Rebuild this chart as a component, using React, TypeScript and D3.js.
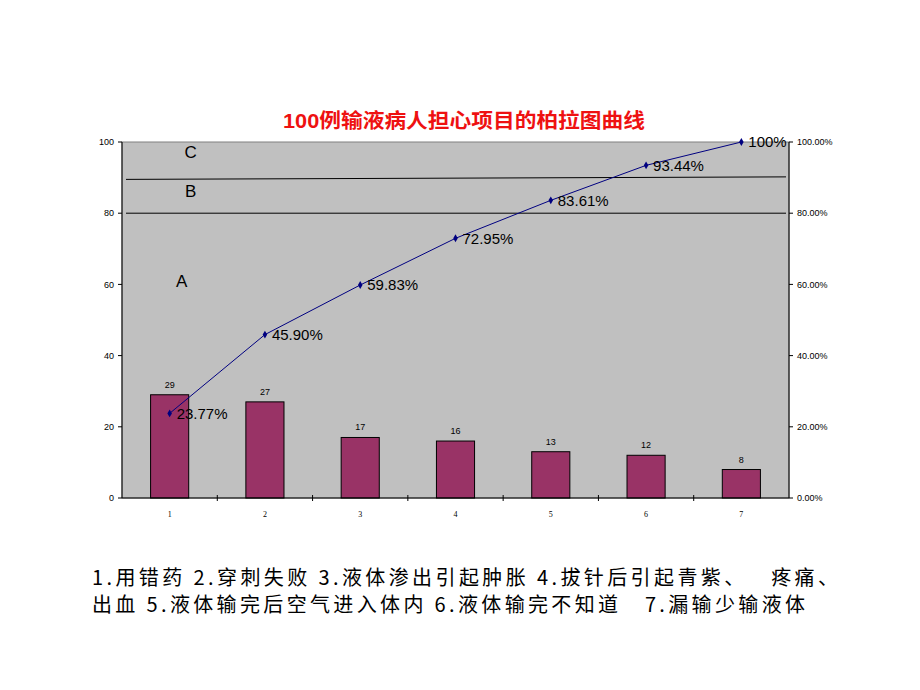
import React, { useEffect, useRef } from "react";
import * as d3 from "d3";

// Pareto data
const categories = ["1", "2", "3", "4", "5", "6", "7"];
const counts = [29, 27, 17, 16, 13, 12, 8];
const cumulative = [23.77, 45.9, 59.83, 72.95, 83.61, 93.44, 100];
const cumulativeLabels = ["23.77%", "45.90%", "59.83%", "72.95%", "83.61%", "93.44%", "100%"];
const leftTicks = [0, 20, 40, 60, 80, 100];
const rightTicks = [0, 20, 40, 60, 80, 100];
// zone boundaries (start / end value on left axis)
const boundaryAB = [80, 80];
const boundaryBC = [89.5, 90.2];
const zoneNames = ["A", "B", "C"];
const zoneValues = [61, 86.3, 97.3];
const legendLines = [
  "1.用错药 2.穿刺失败 3.液体渗出引起肿胀 4.拔针后引起青紫、   疼痛、",
  "出血 5.液体输完后空气进入体内 6.液体输完不知道   7.漏输少输液体",
];

const W = 920;
const H = 690;

export default function App() {
  const svgRef = useRef<SVGSVGElement>(null);

  useEffect(() => {
    if (!svgRef.current) return;
    const svg = d3.select(svgRef.current);
    svg.selectAll("*").remove();

    const plot = { left: 122, right: 789, top: 142, bottom: 498 };
    const font = "Arial, 'Liberation Sans', 'Noto Sans CJK SC', sans-serif";

    const x = d3
      .scaleBand<string>()
      .domain(categories)
      .range([plot.left, plot.right])
      .padding(0);
    const y = d3.scaleLinear().domain([0, 100]).range([plot.bottom, plot.top]);
    const yPct = d3.scaleLinear().domain([0, 100]).range([plot.bottom, plot.top]);

    svg.append("rect").attr("width", W).attr("height", H).attr("fill", "#fff");

    // title
    svg
      .append("text")
      .attr("x", 464)
      .attr("y", 128)
      .attr("text-anchor", "middle")
      .attr("font-family", font)
      .attr("font-weight", "bold")
      .attr("font-size", 20)
      .attr("fill", "#EE1111")
      .attr("textLength", 362)
      .attr("lengthAdjust", "spacingAndGlyphs")
      .text("100例输液病人担心项目的柏拉图曲线");

    // plot background
    svg
      .append("rect")
      .attr("x", plot.left)
      .attr("y", plot.top)
      .attr("width", plot.right - plot.left)
      .attr("height", plot.bottom - plot.top)
      .attr("fill", "#C0C0C0")
      .attr("stroke", "#808080")
      .attr("stroke-width", 1);

    // zone boundaries
    const bx0 = plot.left + 4;
    const bx1 = plot.right - 3;
    [boundaryAB, boundaryBC].forEach((b) => {
      svg
        .append("line")
        .attr("x1", bx0)
        .attr("x2", bx1)
        .attr("y1", y(b[0]))
        .attr("y2", y(b[1]))
        .attr("stroke", "#000")
        .attr("stroke-width", 1);
    });

    // zone labels
    zoneNames.forEach((n, i) => {
      svg
        .append("text")
        .attr("x", (x("1") as number) + x.bandwidth() / 2 + (i === 0 ? 12 : 21))
        .attr("y", y(zoneValues[i]))
        .attr("dy", "0.35em")
        .attr("text-anchor", "middle")
        .attr("font-family", font)
        .attr("font-size", 17)
        .attr("fill", "#000")
        .text(n);
    });

    // bars
    const barW = x.bandwidth() * 0.4;
    svg
      .selectAll(".bar")
      .data(counts)
      .enter()
      .append("rect")
      .attr("class", "bar")
      .attr("x", (d, i) => (x(categories[i]) as number) + (x.bandwidth() - barW) / 2)
      .attr("y", (d) => y(d))
      .attr("width", barW)
      .attr("height", (d) => plot.bottom - y(d))
      .attr("fill", "#993366")
      .attr("stroke", "#000")
      .attr("stroke-width", 1);

    svg
      .selectAll(".barlabel")
      .data(counts)
      .enter()
      .append("text")
      .attr("x", (d, i) => (x(categories[i]) as number) + x.bandwidth() / 2)
      .attr("y", (d) => y(d) - 7)
      .attr("text-anchor", "middle")
      .attr("font-family", font)
      .attr("font-size", 9)
      .text((d) => d);

    // axes lines
    svg
      .append("line")
      .attr("x1", plot.left)
      .attr("x2", plot.left)
      .attr("y1", plot.top)
      .attr("y2", plot.bottom)
      .attr("stroke", "#000");
    svg
      .append("line")
      .attr("x1", plot.right)
      .attr("x2", plot.right)
      .attr("y1", plot.top)
      .attr("y2", plot.bottom)
      .attr("stroke", "#000");
    svg
      .append("line")
      .attr("x1", plot.left)
      .attr("x2", plot.right)
      .attr("y1", plot.bottom)
      .attr("y2", plot.bottom)
      .attr("stroke", "#000");

    // left ticks
    leftTicks.forEach((t) => {
      svg
        .append("line")
        .attr("x1", plot.left - 4)
        .attr("x2", plot.left)
        .attr("y1", y(t))
        .attr("y2", y(t))
        .attr("stroke", "#000");
      svg
        .append("text")
        .attr("x", plot.left - 8)
        .attr("y", y(t))
        .attr("dy", "0.35em")
        .attr("text-anchor", "end")
        .attr("font-family", font)
        .attr("font-size", 9)
        .text(t);
    });

    // right ticks
    rightTicks.forEach((t) => {
      svg
        .append("line")
        .attr("x1", plot.right)
        .attr("x2", plot.right + 4)
        .attr("y1", yPct(t))
        .attr("y2", yPct(t))
        .attr("stroke", "#000");
      svg
        .append("text")
        .attr("x", plot.right + 8)
        .attr("y", yPct(t))
        .attr("dy", "0.35em")
        .attr("font-family", font)
        .attr("font-size", 9)
        .text(d3.format(".2f")(t) + "%");
    });

    // bottom ticks at band boundaries
    categories.forEach((c, i) => {
      if (i > 0) {
        const bx = x(c) as number;
        svg
          .append("line")
          .attr("x1", bx)
          .attr("x2", bx)
          .attr("y1", plot.bottom - 3)
          .attr("y2", plot.bottom + 3)
          .attr("stroke", "#000");
      }
      svg
        .append("text")
        .attr("x", (x(c) as number) + x.bandwidth() / 2)
        .attr("y", plot.bottom + 19)
        .attr("text-anchor", "middle")
        .attr("font-family", "'Liberation Serif', serif")
        .attr("font-size", 8)
        .attr("fill", "#000")
        .text(c);
    });

    // cumulative line
    const line = d3
      .line<number>()
      .x((d, i) => (x(categories[i]) as number) + x.bandwidth() / 2)
      .y((d) => yPct(d));

    svg
      .append("path")
      .datum(cumulative)
      .attr("fill", "none")
      .attr("stroke", "#000080")
      .attr("stroke-width", 1)
      .attr("d", line);

    const diamond = d3.symbol().type(d3.symbolDiamond).size(18);
    svg
      .selectAll(".pt")
      .data(cumulative)
      .enter()
      .append("path")
      .attr("d", diamond)
      .attr(
        "transform",
        (d, i) => `translate(${(x(categories[i]) as number) + x.bandwidth() / 2},${yPct(d)})`
      )
      .attr("fill", "#000080");

    svg
      .selectAll(".ptlabel")
      .data(cumulative)
      .enter()
      .append("text")
      .attr("x", (d, i) => (x(categories[i]) as number) + x.bandwidth() / 2 + 7)
      .attr("y", (d) => yPct(d))
      .attr("dy", "0.36em")
      .attr("font-family", font)
      .attr("font-size", 15)
      .attr("fill", "#000")
      .text((d, i) => cumulativeLabels[i]);

    // category legend below chart
    legendLines.forEach((t, i) => {
      svg
        .append("text")
        .attr("x", 92)
        .attr("y", 585 + i * 27)
        .attr("font-family", "'Noto Sans CJK SC', sans-serif")
        .attr("font-size", 20)
        .attr("fill", "#000")
        .style("white-space", "pre")
        .attr("textLength", i === 0 ? 746 : 713)
        .attr("lengthAdjust", "spacing")
        .text(t);
    });
  }, []);

  return (
    <svg
      ref={svgRef}
      width={W}
      height={H}
      style={{ position: "absolute", left: 0, top: 0, display: "block" }}
    />
  );
}
